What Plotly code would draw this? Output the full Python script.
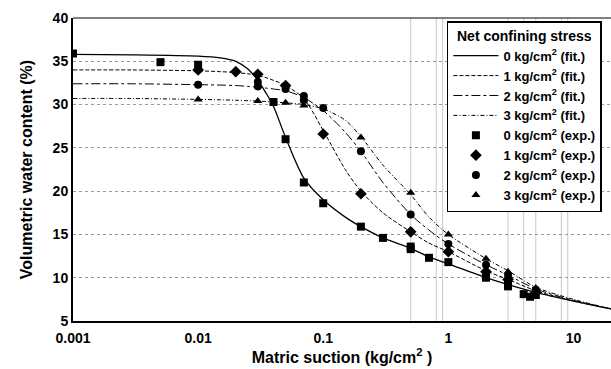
import plotly.graph_objects as go

# ---- fitted curves ----
fit_x = [0.001, 0.003, 0.01, 0.015, 0.02, 0.025, 0.03, 0.035, 0.04, 0.05, 0.07, 0.1, 0.15, 0.2, 0.3, 0.5, 0.7, 1, 2, 3, 5, 10, 20]
fit0_y = [35.8, 35.75, 35.6, 35.4, 35.0, 34.1, 32.8, 31.3, 29.8, 26.2, 21.5, 19.0, 17.0, 15.9, 14.6, 13.4, 12.4, 11.6, 10.0, 9.2, 8.3, 7.3, 6.4]
fit1_y = [34.0, 34.0, 33.9, 33.8, 33.7, 33.55, 33.4, 33.1, 32.8, 32.2, 30.7, 27.0, 22.5, 20.0, 17.5, 15.3, 14.0, 13.0, 10.8, 9.8, 8.5, 7.3, 6.4]
fit2_y = [32.4, 32.4, 32.3, 32.25, 32.2, 32.1, 32.0, 31.9, 31.8, 31.6, 30.8, 29.3, 26.8, 24.6, 21.0, 17.3, 15.5, 13.9, 11.5, 10.3, 8.7, 7.4, 6.4]
fit3_y = [30.7, 30.7, 30.6, 30.55, 30.5, 30.45, 30.4, 30.35, 30.3, 30.2, 30.0, 29.5, 28.2, 26.3, 23.0, 19.6, 17.0, 15.0, 12.2, 10.8, 8.9, 7.5, 6.4]

# ---- experimental points ----
exp0_x = [0.001, 0.005, 0.01, 0.04, 0.05, 0.07, 0.1, 0.2, 0.3, 0.5, 0.5, 0.7, 1, 2, 3, 3, 4, 4.5, 5]
exp0_y = [35.9, 34.9, 34.6, 30.3, 26.0, 21.0, 18.6, 15.9, 14.6, 13.6, 13.3, 12.3, 11.8, 10.0, 9.4, 9.0, 8.1, 7.8, 8.0]
exp1_x = [0.01, 0.02, 0.03, 0.05, 0.1, 0.2, 0.5, 1, 2, 3, 5]
exp1_y = [34.0, 33.8, 33.5, 32.2, 26.6, 19.7, 15.3, 13.0, 10.7, 9.8, 8.3]
exp2_x = [0.01, 0.03, 0.03, 0.05, 0.07, 0.07, 0.1, 0.2, 0.5, 1, 2, 3, 5]
exp2_y = [32.3, 32.6, 32.1, 31.8, 31.0, 30.5, 29.6, 24.6, 17.3, 13.9, 11.5, 10.3, 8.6]
exp3_x = [0.01, 0.03, 0.05, 0.07, 0.2, 0.5, 1, 2, 3, 5]
exp3_y = [30.6, 30.4, 30.2, 29.9, 26.2, 19.8, 15.0, 12.2, 10.7, 8.8]

x_tickvals = [0.001, 0.01, 0.1, 1, 10]
x_ticktext = ["0.001", "0.01", "0.1", "1", "10"]
y_tickvals = [5, 10, 15, 20, 25, 30, 35, 40]

scan_lines_x = [0.5, 0.8, 0.9, 3, 4, 5, 8, 9]

FONT = "Liberation Sans, Arial, sans-serif"

fig = go.Figure()

fit_series = [
    ("0 kg/cm<sup>2</sup> (fit.)", fit0_y, "solid", 1.3),
    ("1 kg/cm<sup>2</sup> (fit.)", fit1_y, "4px,2px", 1.0),
    ("2 kg/cm<sup>2</sup> (fit.)", fit2_y, "9px,3px,3px,3px", 1.0),
    ("3 kg/cm<sup>2</sup> (fit.)", fit3_y, "4px,2px,1px,2px", 1.0),
]
for name, ys, dash, w in fit_series:
    fig.add_trace(go.Scatter(
        x=fit_x, y=ys, mode="lines", name=name,
        line=dict(color="black", width=w, dash=dash, shape="spline", smoothing=0.8),
    ))

exp_series = [
    ("0 kg/cm<sup>2</sup> (exp.)", exp0_x, exp0_y, "square", 8),
    ("1 kg/cm<sup>2</sup> (exp.)", exp1_x, exp1_y, "diamond", 9),
    ("2 kg/cm<sup>2</sup> (exp.)", exp2_x, exp2_y, "circle", 8),
    ("3 kg/cm<sup>2</sup> (exp.)", exp3_x, exp3_y, "triangle-up", 8),
]
for name, xs, ys, sym, sz in exp_series:
    fig.add_trace(go.Scatter(
        x=xs, y=ys, mode="markers", name=name,
        marker=dict(color="black", symbol=sym, size=sz),
    ))

for xv in scan_lines_x:
    fig.add_shape(type="line", xref="x", yref="paper", x0=xv, x1=xv, y0=0, y1=1,
                  line=dict(color="#c8c8c8", width=1), layer="below")

# thin top frame line
fig.add_shape(type="line", xref="paper", yref="paper", x0=0, x1=1, y0=1, y1=1,
              line=dict(color="black", width=1.2))

fig.update_layout(
    width=611, height=369,
    margin=dict(l=73, r=0, t=18, b=48),
    plot_bgcolor="white", paper_bgcolor="white",
    font=dict(family=FONT, color="black"),
    legend=dict(
        title=dict(text="<b>Net confining stress</b>", font=dict(size=14, family=FONT), side="top center"),
        font=dict(size=13, family=FONT, weight="bold"),
        x=0.695, xanchor="left", y=0.99, yanchor="top",
        bgcolor="white", bordercolor="black", borderwidth=1.5,
        tracegroupgap=0, itemwidth=45,
    ),
    xaxis=dict(
        type="log", range=[-3, 1.30],
        tickvals=x_tickvals, ticktext=x_ticktext,
        tickfont=dict(size=14, family=FONT, weight="bold"),
        showline=True, linecolor="black", linewidth=2,
        showgrid=False, zeroline=False, ticks="", ticklabelstandoff=3,
        title=dict(text="<b>Matric suction (kg/cm<sup>2</sup> )</b>", font=dict(size=16, family=FONT), standoff=6),
    ),
    yaxis=dict(
        range=[5, 40], tickvals=y_tickvals,
        tickfont=dict(size=14, family=FONT, weight="bold"),
        showline=True, linecolor="black", linewidth=2,
        showgrid=True, gridcolor="#9a9a9a", griddash="dot", gridwidth=1,
        zeroline=False, ticks="",
        title=dict(text="<b>Volumetric water content (%)</b>", font=dict(size=16, family=FONT), standoff=16),
    ),
)

fig.write_html("out.html")
